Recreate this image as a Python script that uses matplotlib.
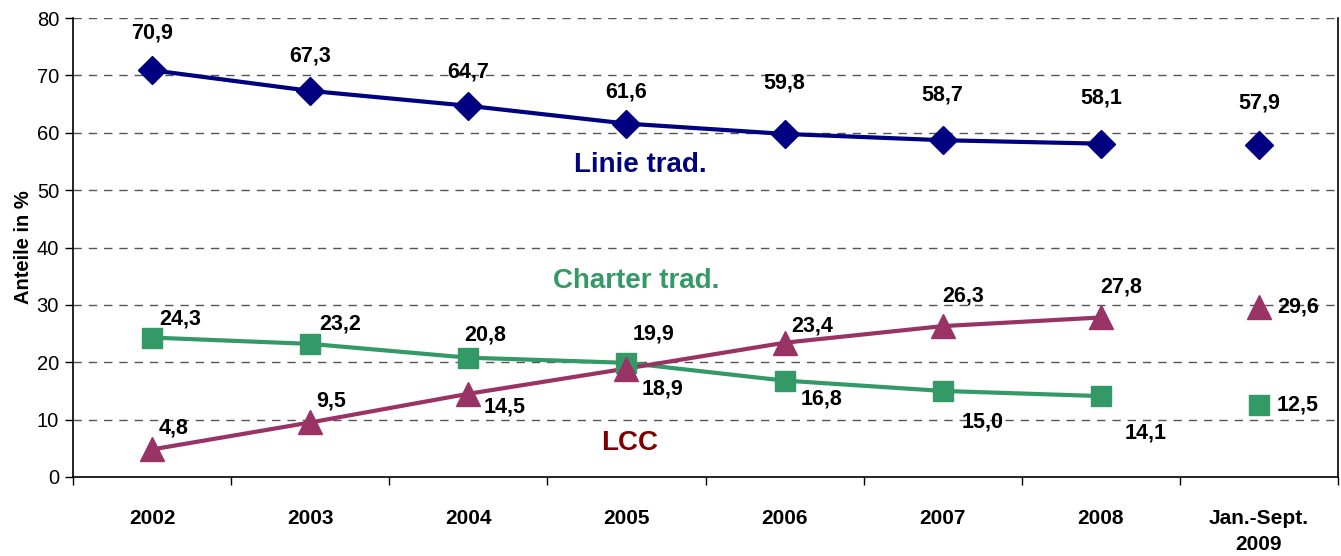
import matplotlib
matplotlib.use("Agg")
import matplotlib.pyplot as plt

plt.rcParams['font.family'] = ['Liberation Sans', 'DejaVu Sans']

categories = ["2002", "2003", "2004", "2005", "2006", "2007", "2008", "Jan.-Sept.\n2009"]
linie = [70.9, 67.3, 64.7, 61.6, 59.8, 58.7, 58.1, 57.9]
charter = [24.3, 23.2, 20.8, 19.9, 16.8, 15.0, 14.1, 12.5]
lcc = [4.8, 9.5, 14.5, 18.9, 23.4, 26.3, 27.8, 29.6]

c_linie = "#000080"
c_charter = "#339966"
c_lcc = "#993366"

fig = plt.figure(figsize=(13.41, 5.56), dpi=100)
ax = fig.add_axes([0.0544, 0.1421, 0.9434, 0.8255])

x = list(range(len(categories)))
n = 7  # connected years

ax.set_ylim(0, 80)
ax.set_xlim(-0.5, len(categories) - 0.5)
for yv in range(10, 81, 10):
    ax.axhline(yv, color="#555555", lw=1.0, ls=(0, (6, 5)), zorder=1)

# lines
ax.plot(x[:n], linie[:n], color=c_linie, lw=3, zorder=3)
ax.plot(x[:n], charter[:n], color=c_charter, lw=3, zorder=3)
ax.plot(x[:n], lcc[:n], color=c_lcc, lw=3, zorder=3)
ax.plot(x, linie, ls="none", marker="D", ms=14, color=c_linie, zorder=4)
ax.plot(x, charter, ls="none", marker="s", ms=15, color=c_charter, zorder=4)
ax.plot(x, lcc, ls="none", marker="^", ms=17, color=c_lcc, zorder=5)

def fmt(v):
    return f"{v:.1f}".replace(".", ",")

lab_kw = dict(fontsize=15.5, fontweight="bold", color="black", zorder=6,
              textcoords="offset pixels", ha="center", va="center")

linie_off = [(0, 37), (0, 35), (0, 34), (0, 32), (0, 51), (0, 45), (0, 46), (0, 42)]
charter_off = [(28, 19), (30, 20), (17, 23), (27, 29), (37, -18), (40, -31), (45, -37), (39, 0)]
lcc_off = [(22, 21), (21, 21), (36, -13), (36, -20), (28, 17), (20, 30), (20, 30), (39, 0)]

for vals, offs in ((linie, linie_off), (charter, charter_off), (lcc, lcc_off)):
    for xi, v, (dx, dy) in zip(x, vals, offs):
        ax.annotate(fmt(v), (xi, v), xytext=(dx, dy), **lab_kw)

# series names
ax.text(3.09, 54.4, "Linie trad.", color=c_linie, fontsize=20, fontweight="bold",
        ha="center", va="center")
ax.text(3.06, 34.2, "Charter trad.", color=c_charter, fontsize=20, fontweight="bold",
        ha="center", va="center")
ax.text(3.02, 5.9, "LCC", color="#800000", fontsize=20, fontweight="bold",
        ha="center", va="center")

ax.set_yticks(range(0, 81, 10))
ax.tick_params(axis="y", labelsize=14.5, length=6, direction="out", width=1, pad=4)
ax.set_xticks(x)
ax.set_xticklabels(categories, fontsize=15, fontweight="bold", linespacing=1.5, va="top")
ax.tick_params(axis="x", length=0, pad=23)
ax.set_xticks([-0.5] + [i + 0.5 for i in x], minor=True)
ax.tick_params(axis="x", which="minor", length=6, width=1)

ax.set_ylabel("Anteile in %", fontsize=14.5, fontweight="bold", labelpad=3)
ax.spines["top"].set_visible(False)
for s in ["left", "bottom", "right"]:
    ax.spines[s].set_linewidth(1.2)

fig.savefig("out.png", dpi=100)
